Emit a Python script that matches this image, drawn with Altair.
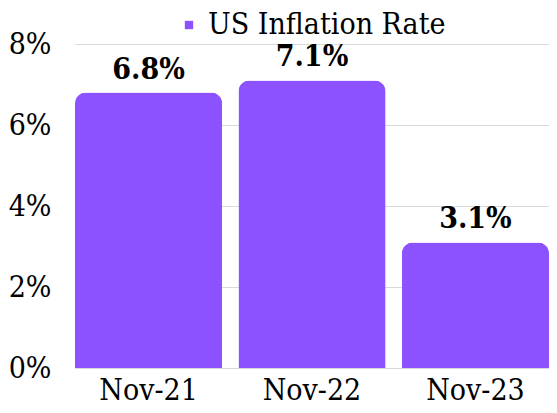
import altair as alt
import pandas as pd

categories = ["Nov-21", "Nov-22", "Nov-23"]
values = [6.8, 7.1, 3.1]
series = "US Inflation Rate"

df = pd.DataFrame({"month": categories, "rate": [v / 100 for v in values], "series": series})
df["label"] = [f"{v:.1f}%" for v in values]

FONT = "DejaVu Serif Condensed, DejaVu Serif"
FS = 30
COLOR = "#8c52ff"

base = alt.Chart(df).encode(
    x=alt.X("month:N", sort=categories, title=None,
            scale=alt.Scale(paddingInner=0.1, paddingOuter=0),
            axis=alt.Axis(labelAngle=0, labelFont=FONT, labelFontSize=FS, labelColor="black",
                          ticks=False, domainColor="#d9d9d9", labelPadding=7)),
    y=alt.Y("rate:Q", title=None,
            scale=alt.Scale(domain=[0, 0.08]),
            axis=alt.Axis(format=".0%", values=[0, 0.02, 0.04, 0.06, 0.08], labelFont=FONT,
                          labelFontSize=FS, labelColor="black", ticks=False, domain=False,
                          gridColor="#d9d9d9", labelPadding=24)),
)

bars = base.mark_bar(cornerRadiusTopLeft=11, cornerRadiusTopRight=11).encode(
    color=alt.Color("series:N", scale=alt.Scale(range=[COLOR]),
                    legend=alt.Legend(title=None, orient="none", legendX=99, legendY=-34,
                                      symbolType="square", symbolSize=70, labelFont=FONT,
                                      labelFontSize=FS, labelColor="black", symbolOffset=0,
                                      labelOffset=4, labelLimit=500))
)

text = base.mark_text(baseline="bottom", dy=-8, font=FONT, fontSize=FS, fontWeight="bold",
                      color="black").encode(text="label:N")

chart = (bars + text).properties(
    width=474, height=324,
    autosize=alt.AutoSizeParams(type="none"),
    padding={"left": 67, "top": 36, "right": 0, "bottom": 42},
).configure(font=FONT).configure_legend(labelFont=FONT).configure_view(stroke=None)

chart.save("out.html", embed_options={"renderer": "svg", "actions": False})
